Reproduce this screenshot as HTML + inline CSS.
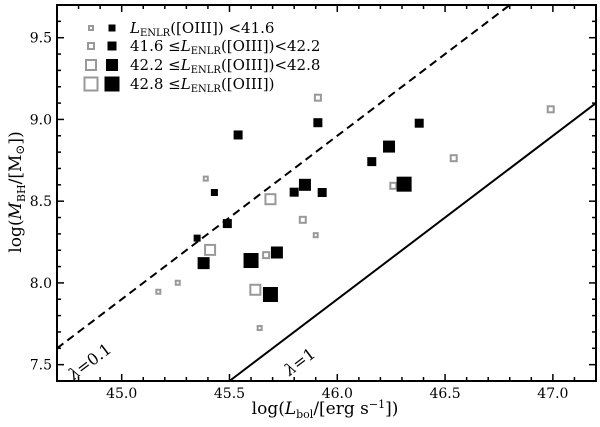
<!DOCTYPE html>
<html><head><meta charset="utf-8"><style>
html,body{margin:0;padding:0;background:#fff;}
svg{display:block;}
text{font-family:"DejaVu Serif","Liberation Serif",serif;}
</style></head><body>
<svg id="chart" width="600" height="427" viewBox="0 0 600 427" xmlns="http://www.w3.org/2000/svg">
<g id="lines"></g>
<g id="pts"></g>
<g id="axes"></g>
<g id="legend"></g>
<text x="325" y="414" text-anchor="middle" font-size="17">log(<tspan font-style="italic">L</tspan><tspan font-size="11" dy="4">bol</tspan><tspan dy="-4">/[erg s</tspan><tspan font-size="11" dy="-6">−1</tspan><tspan dy="6">])</tspan></text>
<text transform="translate(21,192) rotate(-90)" text-anchor="middle" font-size="17">log(<tspan font-style="italic">M</tspan><tspan font-size="11" dy="4">BH</tspan><tspan dy="-4">/[M</tspan><tspan font-size="12" dy="3">⊙</tspan><tspan dy="-3">])</tspan></text>
</svg>
<script>
const grayLbol=[45.39,45.69,45.84,45.90,45.41,45.67,45.17,45.26,45.62,45.64,46.54,46.99,46.26,45.91];
const grayMbh=[8.638,8.512,8.386,8.292,8.202,8.170,7.946,8.001,7.958,7.724,8.763,9.062,8.594,9.133];
const grayBin=[0,2,1,0,2,1,0,0,2,0,1,1,1,1];
const blackLbol=[45.54,45.91,45.43,45.80,45.85,45.93,45.49,45.35,45.38,45.60,45.72,45.69,46.38,46.24,46.16,46.31];
const blackMbh=[8.905,8.98,8.553,8.555,8.60,8.553,8.363,8.274,8.121,8.137,8.186,7.929,8.977,8.834,8.742,8.604];
const blackBin=[1,1,0,1,2,1,1,0,2,3,2,3,1,2,1,3];
const xTicks=[45.0,45.5,46.0,46.5,47.0];
const yTicks=[7.5,8.0,8.5,9.0,9.5];
const legendLabels=["<41.6","41.6 ≤","42.2 ≤","42.8 ≤"];
const NS="http://www.w3.org/2000/svg";
const L=57,R=596,T=5,B=381,X0=44.7,X1=47.2,Y0=7.4,Y1=9.7;
const sx=v=>L+(v-X0)/(X1-X0)*(R-L);
const sy=v=>B-(v-Y0)/(Y1-Y0)*(B-T);
const graySize=[6,8,12,15], blackSize=[7,9,12,15];
function mk(tag,attrs,parent){const e=document.createElementNS(NS,tag);for(const k in attrs)e.setAttribute(k,attrs[k]);parent.appendChild(e);return e;}
const lines=document.getElementById('lines');
// lambda lines: logM = logL - 38.1 - log(lambda)
function lam(l,dash,name){
  let xa=X0,ya=xa-38.1-Math.log10(l);
  if(ya<Y0){ya=Y0;xa=Y0+38.1+Math.log10(l);}
  let xb=X1,yb=xb-38.1-Math.log10(l);
  if(yb>Y1){yb=Y1;xb=Y1+38.1+Math.log10(l);}
  const e=mk('line',{x1:sx(xa),y1:sy(ya),x2:sx(xb),y2:sy(yb),stroke:'#000','stroke-width':2,'stroke-dasharray':dash},lines);
  
  
}
lam(0.1,'8,5','lambda-0.1-line');
lam(1,'none','lambda-1-line');
const ang=-Math.atan((sy(7.4)-sy(8.4))/(sx(46.4)-sx(45.4)))*180/Math.PI;
let t=mk('text',{x:93,y:366,'font-size':16,transform:`rotate(${ang} 93 366)`,'text-anchor':'middle'},lines);
t.innerHTML='<tspan font-style="italic">λ</tspan>=0.1';


t=mk('text',{x:303,y:366,'font-size':16,transform:`rotate(${ang} 303 366)`,'text-anchor':'middle'},lines);
t.innerHTML='<tspan font-style="italic">λ</tspan>=1';


const pts=document.getElementById('pts');
grayLbol.forEach((v,i)=>{const s=graySize[grayBin[i]];
  const e=mk('rect',{x:sx(v)-s/2+1,y:sy(grayMbh[i])-s/2+1,width:s-2,height:s-2,fill:'#fff',stroke:'#999','stroke-width':2},pts);
  
  });
blackLbol.forEach((v,i)=>{const s=blackSize[blackBin[i]];
  const e=mk('rect',{x:sx(v)-s/2,y:sy(blackMbh[i])-s/2,width:s,height:s,fill:'#000'},pts);
  
  });
const axes=document.getElementById('axes');
let fr=mk('rect',{x:L,y:T,width:R-L,height:B-T,fill:'none',stroke:'#000','stroke-width':2},axes);


for(let k=Math.round(X0*10);k<=Math.round(X1*10);k++){const v=k/10,x=sx(v),maj=k%5===0,len=maj?7:4;
  mk('line',{x1:x,y1:B,x2:x,y2:B-len,stroke:'#000','stroke-width':1.5},axes);
  mk('line',{x1:x,y1:T,x2:x,y2:T+len,stroke:'#000','stroke-width':1.5},axes);}
for(let k=Math.round(Y0*10);k<=Math.round(Y1*10);k++){const v=k/10,y=sy(v),maj=k%5===0,len=maj?7:4;
  mk('line',{x1:L,y1:y,x2:L+len,y2:y,stroke:'#000','stroke-width':1.5},axes);
  mk('line',{x1:R,y1:y,x2:R-len,y2:y,stroke:'#000','stroke-width':1.5},axes);}
xTicks.forEach(v=>{const e=mk('text',{x:sx(v),y:B+17,'font-size':14,'text-anchor':'middle'},axes);e.textContent=v.toFixed(1);
  
  });
yTicks.forEach(v=>{const e=mk('text',{x:L-5,y:sy(v)+5,'font-size':14,'text-anchor':'end'},axes);e.textContent=v.toFixed(1);
  
  });
const leg=document.getElementById('legend');
const rows=[28,46,65,84];
legendLabels.forEach((lab,i)=>{const y=rows[i],gs=graySize[i],bs=blackSize[i];
  const g=mk('rect',{x:91-gs/2+1,y:y-gs/2+1,width:gs-2,height:gs-2,fill:'#fff',stroke:'#999','stroke-width':2},leg);
  
  
  const b=mk('rect',{x:112-bs/2,y:y-bs/2,width:bs,height:bs,fill:'#000'},leg);
  
  
  const tx=mk('text',{x:130,y:y+5,'font-size':15},leg);
  const core='<tspan font-style="italic">L</tspan><tspan font-size="10" dy="3">ENLR</tspan><tspan dy="-3">([OIII])</tspan>';
  if(i===0) tx.innerHTML=core+' &lt;41.6';
  else if(i===1) tx.innerHTML='41.6 ≤'+core+'&lt;42.2';
  else if(i===2) tx.innerHTML='42.2 ≤'+core+'&lt;42.8';
  else tx.innerHTML='42.8 ≤'+core;
  
  
});
</script>
</body></html>
